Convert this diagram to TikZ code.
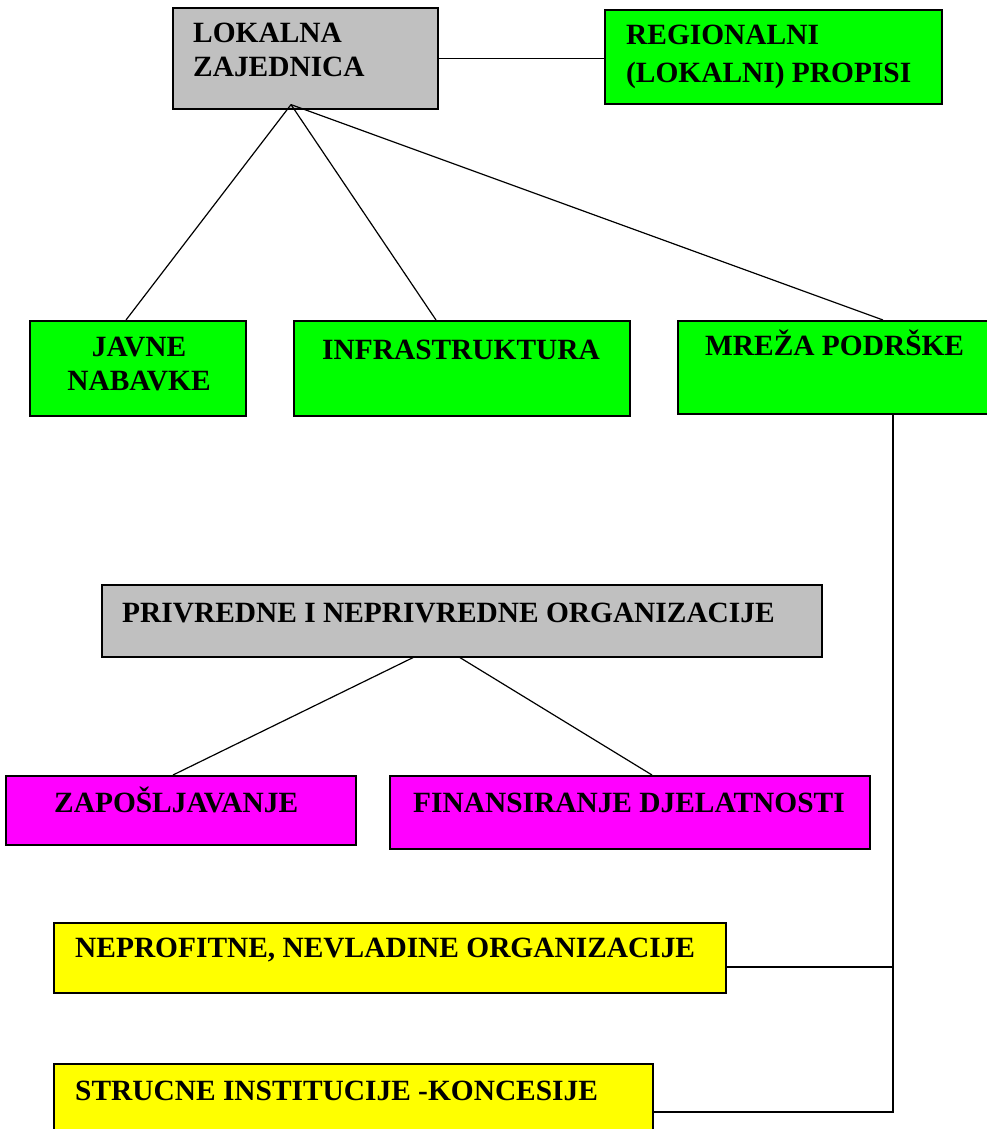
\documentclass[tikz,border=0pt]{standalone}
\usepackage{fontspec}
\setmainfont{Liberation Serif}
\usetikzlibrary{calc,positioning}
\definecolor{lzgray}{RGB}{192,192,192}
\definecolor{lzgreen}{RGB}{0,255,0}
\definecolor{lzmagenta}{RGB}{255,0,255}
\definecolor{lzyellow}{RGB}{255,255,0}
\tikzset{
  box/.style={draw,line width=1.6pt,anchor=north west,inner sep=0pt},
  lbl/.style={font=\bfseries\fontsize{29.4}{34}\selectfont,inner sep=0pt},
  link/.style={line width=1.2pt}
}
\begin{document}
\begin{tikzpicture}[x=1pt,y=-1pt]
  \useasboundingbox (0,0) rectangle (986,1129);
  % top level
  \node[box,fill=lzgray,minimum width=265,minimum height=101] (lok) at (172,7) {};
  \node[box,fill=lzgreen,minimum width=337,minimum height=94] (reg) at (604,9) {};
  \node[lbl,anchor=north west,align=left] (loktxt) at (193,23) {LOKALNA\\ZAJEDNICA};
  \node[lbl,anchor=north west,align=left,font=\bfseries\fontsize{29.4}{38}\selectfont] (regtxt) at (626,25) {REGIONALNI\\(LOKALNI) PROPISI};
  \draw[link] (lok.east) -- (lok.east -| reg.west);
  % second level
  \node[box,fill=lzgreen,minimum width=216,minimum height=95] (jav) at (29,320) {};
  \node[box,fill=lzgreen,minimum width=336,minimum height=95] (inf) at (293,320) {};
  \node[box,fill=lzgreen,minimum width=330,minimum height=93] (mre) at (677,320) {};
  \node[lbl,anchor=north,align=center] (javtxt) at (139,337) {JAVNE\\NABAVKE};
  \node[lbl,anchor=base west] (inftxt) at (322,359) {INFRASTRUKTURA};
  \node[lbl,anchor=base west] (mretxt) at (705,355) {MREŽA PODRŠKE};
  \coordinate (apex) at ($(lok.south west)+(119,-5)$);
  \draw[link] (apex) -- ($(jav.north west)+(97,0)$);
  \draw[link] (apex) -- ($(inf.north west)+(143,0)$);
  \draw[link] (apex) -- ($(mre.north west)+(206,0)$);
  % organizations
  \node[box,fill=lzgray,minimum width=720,minimum height=72] (priv) at (101,584) {};
  \node[lbl,anchor=base west] (privtxt) at (122,622) {PRIVREDNE I NEPRIVREDNE ORGANIZACIJE};
  \node[box,fill=lzmagenta,minimum width=350,minimum height=69] (zap) at (5,775) {};
  \node[box,fill=lzmagenta,minimum width=480,minimum height=73] (fin) at (389,775) {};
  \node[lbl,anchor=base west] (zaptxt) at (54,812) {ZAPOŠLJAVANJE};
  \node[lbl,anchor=base west] (fintxt) at (413,812) {FINANSIRANJE DJELATNOSTI};
  \draw[link] ($(priv.south west)+(312,0)$) -- ($(zap.north west)+(168,0)$);
  \draw[link] ($(priv.south west)+(359,0)$) -- ($(fin.north west)+(263,0)$);
  % support network
  \node[box,fill=lzyellow,minimum width=672,minimum height=70] (nep) at (53,922) {};
  \node[box,fill=lzyellow,minimum width=599,minimum height=80] (str) at (53,1063) {};
  \node[lbl,anchor=base west] (neptxt) at (75,957) {NEPROFITNE, NEVLADINE ORGANIZACIJE};
  \node[lbl,anchor=base west] (strtxt) at (75,1100) {STRUCNE INSTITUCIJE -KONCESIJE};
  \coordinate (rail) at ($(mre.south west)+(216,0)$);
  \coordinate (nepjoin) at ($(nep.north east)+(0,45)$);
  \coordinate (strjoin) at ($(str.north east)+(0,49)$);
  \draw[link] (rail) -- (rail |- strjoin) -- (strjoin);
  \draw[link] (nepjoin) -- (rail |- nepjoin);
\end{tikzpicture}
\end{document}
